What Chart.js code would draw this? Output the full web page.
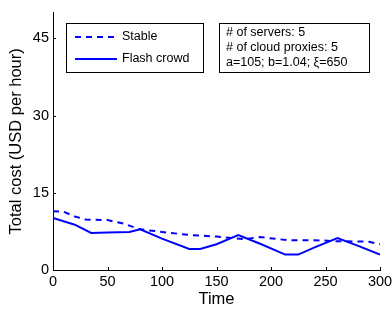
<!DOCTYPE html>
<html>
<head>
<meta charset="utf-8">
<script src="https://cdn.jsdelivr.net/npm/chart.js@4"></script>
<style>
  html, body { margin: 0; padding: 0; background: #fff; }
  #wrap { width: 392px; height: 309px; }
</style>
</head>
<body>
<div id="wrap"><canvas id="costChart" width="392" height="309"></canvas></div>
<script>
// Dados
const stableTime = [0, 10, 20, 30, 50, 65, 80, 100, 125, 150, 175, 190, 215, 240, 260, 290, 300];
const stableCost = [11.4, 11.3, 10.4, 9.8, 9.7, 9.0, 7.9, 7.4, 6.8, 6.5, 6.0, 6.4, 5.8, 5.8, 5.6, 5.5, 5.0];
const flashTime = [0, 20, 35, 50, 70, 80, 100, 125, 135, 150, 170, 190, 213, 225, 240, 261, 280, 300];
const flashCost = [10.1, 8.8, 7.2, 7.3, 7.4, 7.9, 6.1, 4.1, 4.1, 5.0, 6.8, 5.1, 3.0, 3.0, 4.4, 6.2, 4.7, 3.0];
const xTicks = [0, 50, 100, 150, 200, 250, 300];
const yTicks = [0, 15, 30, 45];
const infoLines = ['# of servers: 5', '# of cloud proxies: 5', 'a=105; b=1.04; \u03be=650'];

const FONT = '"Liberation Sans", Arial, Helvetica, sans-serif';
const BLUE = '#0000ff';

function toPoints(xs, ys) {
    return xs.map((x, i) => ({ x: x, y: ys[i] }));
}

// Plugin para ticks internos, legenda e caixa de texto (estilo MATLAB)
const matlabDecor = {
    id: 'matlabDecor',
    afterDraw(chart) {
        const ctx = chart.ctx;
        const xs = chart.scales.x;
        const ys = chart.scales.y;
        const area = chart.chartArea;
        ctx.save();
        ctx.strokeStyle = '#000';
        ctx.lineWidth = 1;
        // ticks para dentro
        xTicks.forEach(v => {
            const px = Math.round(xs.getPixelForValue(v)) + 0.5;
            ctx.beginPath();
            ctx.moveTo(px, area.bottom);
            ctx.lineTo(px, area.bottom - 3);
            ctx.stroke();
        });
        yTicks.forEach(v => {
            const py = Math.round(ys.getPixelForValue(v)) + 0.5;
            ctx.beginPath();
            ctx.moveTo(area.left, py);
            ctx.lineTo(area.left + 3, py);
            ctx.stroke();
        });

        // legenda
        ctx.fillStyle = '#fff';
        ctx.fillRect(66.5, 23.5, 137, 49);
        ctx.strokeRect(66.5, 23.5, 137, 49);
        ctx.strokeStyle = BLUE;
        ctx.lineWidth = 2;
        ctx.setLineDash([6, 5]);
        ctx.beginPath();
        ctx.moveTo(75, 37);
        ctx.lineTo(117, 37);
        ctx.stroke();
        ctx.setLineDash([]);
        ctx.beginPath();
        ctx.moveTo(75, 59);
        ctx.lineTo(117, 59);
        ctx.stroke();
        ctx.fillStyle = '#000';
        ctx.font = '12.5px ' + FONT;
        ctx.textBaseline = 'middle';
        ctx.fillText('Stable', 122, 37);
        ctx.fillText('Flash crowd', 122, 59);

        // caixa de informações
        ctx.strokeStyle = '#000';
        ctx.lineWidth = 1;
        ctx.fillStyle = '#fff';
        ctx.fillRect(219.5, 23.5, 150, 49);
        ctx.strokeRect(219.5, 23.5, 150, 49);
        ctx.fillStyle = '#000';
        infoLines.forEach((t, i) => ctx.fillText(t, 226, 33 + i * 15));
        ctx.restore();
    }
};

document.addEventListener('DOMContentLoaded', function() {
    const ctx = document.getElementById('costChart');
    new Chart(ctx.getContext('2d'), {
        type: 'line',
        data: {
            datasets: [{
                label: 'Stable',
                data: toPoints(stableTime, stableCost),
                borderColor: BLUE,
                borderWidth: 2,
                borderDash: [6, 5],
                pointRadius: 0,
                tension: 0
            }, {
                label: 'Flash crowd',
                data: toPoints(flashTime, flashCost),
                borderColor: BLUE,
                borderWidth: 2,
                pointRadius: 0,
                tension: 0
            }]
        },
        options: {
            responsive: false,
            animation: false,
            layout: { padding: { top: 7, right: 12, left: 0, bottom: 0 } },
            plugins: { legend: { display: false }, tooltip: { enabled: false } },
            scales: {
                x: {
                    type: 'linear',
                    min: 0,
                    max: 300,
                    afterBuildTicks: s => { s.ticks = xTicks.map(v => ({ value: v })); },
                    afterFit: s => { s.height = 39; s.paddingRight = 0; s.paddingLeft = 0; },
                    grid: { display: false, drawTicks: false },
                    border: { color: '#000', width: 1 },
                    ticks: { color: '#000', font: { family: FONT, size: 14.5 }, padding: 3, maxRotation: 0 },
                    title: { display: true, text: 'Time', color: '#000', font: { family: FONT, size: 16.5 }, padding: { top: 0, bottom: 0 } }
                },
                y: {
                    min: 0,
                    max: 50,
                    afterBuildTicks: s => { s.ticks = yTicks.map(v => ({ value: v })); },
                    afterFit: s => { s.width = 53; },
                    grid: { display: false, drawTicks: false },
                    border: { color: '#000', width: 1 },
                    ticks: { color: '#000', font: { family: FONT, size: 14.5 }, padding: 4 },
                    title: { display: true, text: 'Total cost (USD per hour)', color: '#000', font: { family: FONT, size: 16.5 }, padding: { top: 7, bottom: 0 } }
                }
            }
        },
        plugins: [matlabDecor]
    });
});
</script>
</body>
</html>
